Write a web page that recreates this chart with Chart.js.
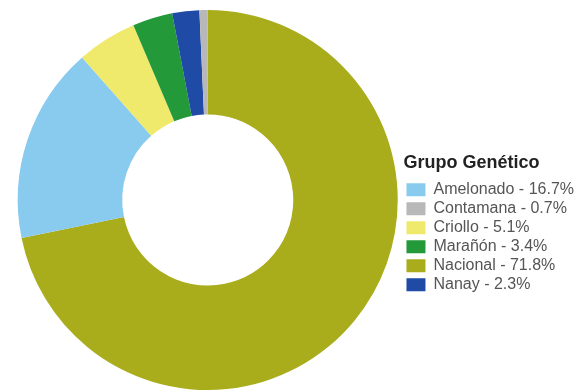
<!DOCTYPE html>
<html>
<head>
<meta charset="utf-8">
<script src="https://cdn.jsdelivr.net/npm/chart.js@4"></script>
<style>
  html, body { margin: 0; padding: 0; background: #fff; overflow: hidden; }
  #contenedor { width: 584px; height: 392px; }
</style>
</head>
<body>
<div id="contenedor"><canvas id="graficoGrupos"></canvas></div>
<script>
// Datos del grafico (orden de los sectores, en sentido horario desde arriba)
const grupos = ["Nacional", "Amelonado", "Criollo", "Marañón", "Nanay", "Contamana"];
const porcentajes = [71.8, 16.7, 5.1, 3.4, 2.3, 0.7];
const colores = ["#a9ad1b", "#89caef", "#efe96c", "#23993a", "#1f4aa6", "#b8b8b8"];
const tituloLeyenda = "Grupo Genético";

var etiquetas = [];
for (let i = 0; i < grupos.length; i++) {
  etiquetas.push(grupos[i] + " - " + porcentajes[i] + "%");
}

const datos = {
  labels: etiquetas,
  datasets: [
    {
      data: porcentajes,
      backgroundColor: colores,
      borderWidth: 0,
    },
  ],
};

const config = {
  type: "doughnut",
  data: datos,
  options: {
    responsive: true,
    maintainAspectRatio: false,
    animation: false,
    cutout: "45%",
    layout: { padding: { left: 12, top: 10, bottom: 2, right: 0 } },
    plugins: {
      tooltip: { enabled: false },
      legend: {
        position: "right",
        title: {
          display: true,
          text: tituloLeyenda,
          position: "start",
          color: "#222",
          font: { family: "Liberation Sans, Arial, sans-serif", size: 18, weight: "bold" },
          padding: { top: 50, bottom: 3 },
        },
        labels: {
          boxWidth: 19,
          boxHeight: 13,
          padding: 3,
          color: "#555",
          font: { family: "Liberation Sans, Arial, sans-serif", size: 16 },
          // Leyenda en orden alfabetico
          sort: function (a, b) {
            return a.text.localeCompare(b.text);
          },
        },
      },
    },
  },
};

const ctx = document.getElementById("graficoGrupos").getContext("2d");
new Chart(ctx, config);
</script>
</body>
</html>
